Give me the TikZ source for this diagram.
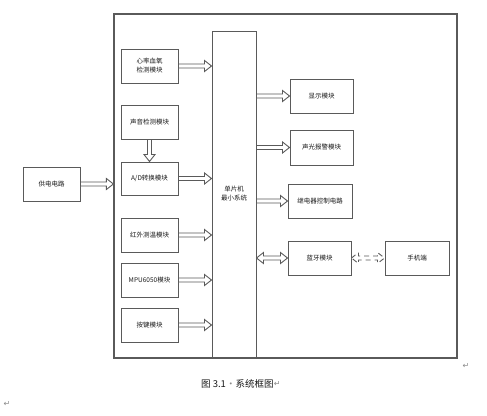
\documentclass[tikz,border=0pt]{standalone}
\usepackage{fontspec}
\newfontfamily\cjk{Noto Sans CJK SC}
\newfontfamily\dejavu{DejaVu Sans}
\usetikzlibrary{calc}
\definecolor{ln}{HTML}{5A5A5A}
\definecolor{txt}{HTML}{1A1A1A}
\definecolor{mark}{HTML}{8A8A8A}
\tikzset{
  blk/.style={draw=ln, line width=1pt, fill=white, inner sep=1pt, align=center,
    font=\cjk\fontsize{6.5}{9}\selectfont, text=txt},
  fat/.style={to path={
    let \p1=(\tikztostart), \p2=(\tikztotarget),
        \n1={atan2(\y2-\y1,\x2-\x1)}, \n3={atan2(\y2-\y1,\x2-\x1)+90},
        \n2={veclen(\x2-\x1,\y2-\y1)} in
    ($(\p1)+(\n3:2pt)$)
    -- ($(\p1)+(\n1:{\n2*1pt-7pt})+(\n3:2pt)$)
    -- ($(\p1)+(\n1:{\n2*1pt-7pt})+(\n3:5.5pt)$)
    -- (\p2)
    -- ($(\p1)+(\n1:{\n2*1pt-7pt})+(\n3:-5.5pt)$)
    -- ($(\p1)+(\n1:{\n2*1pt-7pt})+(\n3:-2pt)$)
    -- ($(\p1)+(\n3:-2pt)$) -- cycle}},
  fatboth/.style={to path={
    let \p1=(\tikztostart), \p2=(\tikztotarget),
        \n1={atan2(\y2-\y1,\x2-\x1)}, \n3={atan2(\y2-\y1,\x2-\x1)+90},
        \n2={veclen(\x2-\x1,\y2-\y1)} in
    (\p1)
    -- ($(\p1)+(\n1:7pt)+(\n3:5.5pt)$)
    -- ($(\p1)+(\n1:7pt)+(\n3:2pt)$)
    -- ($(\p1)+(\n1:{\n2*1pt-7pt})+(\n3:2pt)$)
    -- ($(\p1)+(\n1:{\n2*1pt-7pt})+(\n3:5.5pt)$)
    -- (\p2)
    -- ($(\p1)+(\n1:{\n2*1pt-7pt})+(\n3:-5.5pt)$)
    -- ($(\p1)+(\n1:{\n2*1pt-7pt})+(\n3:-2pt)$)
    -- ($(\p1)+(\n1:7pt)+(\n3:-2pt)$)
    -- ($(\p1)+(\n1:7pt)+(\n3:-5.5pt)$)
    -- cycle}},
  conn/.style={draw=ln, line width=0.9pt, fill=white},
  retmark/.style={font=\dejavu\fontsize{8}{8}\selectfont, text=mark, inner sep=0pt}
}
\begin{document}
\begin{tikzpicture}[x=1pt,y=-1pt]
\useasboundingbox[fill=white] (0,0) rectangle (487,415);
% outer frame
\node[draw=ln, line width=1.2pt, minimum width=343pt, minimum height=344pt, inner sep=0pt]
  (frame) at (285.5,186) {};
% MCU
\node[blk, minimum width=44pt, minimum height=326pt] (mcu) at (234,194) {单片机\\最小系统};
% left column
\node[blk, minimum width=57pt, minimum height=34pt] (hr) at (149.5,66) {心率血氧\\检测模块};
\node[blk, minimum width=57pt, minimum height=34pt] (snd) at (149.5,122) {声音检测模块};
\node[blk, minimum width=57pt, minimum height=33pt] (ad) at (149.5,178.5) {A/D转换模块};
\node[blk, minimum width=57pt, minimum height=34pt] (ir) at (149.5,235) {红外测温模块};
\node[blk, minimum width=57pt, minimum height=34pt] (mpu) at (149.5,280) {MPU6050模块};
\node[blk, minimum width=57pt, minimum height=34pt] (key) at (149.5,325) {按键模块};
% power
\node[blk, minimum width=57pt, minimum height=34pt] (pwr) at (51.5,184) {供电电路};
% right column
\node[blk, minimum width=63pt, minimum height=34pt] (disp) at (321.5,96) {显示模块};
\node[blk, minimum width=63pt, minimum height=35pt] (alarm) at (321.5,147.5) {声光报警模块};
\node[blk, minimum width=64pt, minimum height=34pt] (relay) at (320,201) {继电器控制电路};
\node[blk, minimum width=63pt, minimum height=34pt] (bt) at (319.5,258) {蓝牙模块};
\node[blk, minimum width=64pt, minimum height=34pt] (phone) at (417,258) {手机端};
% connectors
\draw[conn] (hr.east) to[fat] (mcu.west |- hr.east);
\draw[conn] (snd.south) to[fat] (ad.north);
\draw[conn] (ad.east) to[fat] (mcu.west |- ad.east);
\draw[conn] (ir.east) to[fat] (mcu.west |- ir.east);
\draw[conn] (mpu.east) to[fat] (mcu.west |- mpu.east);
\draw[conn] (key.east) to[fat] (mcu.west |- key.east);
\draw[conn] (pwr.east) to[fat] (frame.west |- pwr.east);
\draw[conn] (mcu.east |- disp.west) to[fat] (disp.west);
\draw[conn] (mcu.east |- alarm.west) to[fat] (alarm.west);
\draw[conn] (mcu.east |- relay.west) to[fat] (relay.west);
\draw[conn] (mcu.east |- bt.west) to[fatboth] (bt.west);
\draw[conn, dashed, dash pattern=on 5pt off 4pt] (bt.east) to[fatboth] (phone.west);
% caption and paragraph marks
\node[inner sep=0pt, anchor=west, font=\cjk\fontsize{9.5}{11}\selectfont, text=txt] (cap) at (201,384)
  {图 3.1\textcolor{mark}{·}系统框图};
\node[retmark, anchor=west] (r1) at (cap.east) {↵};
\node[retmark] (r2) at (466,366) {↵};
\node[retmark] (r3) at (7,404) {↵};
\end{tikzpicture}
\end{document}
